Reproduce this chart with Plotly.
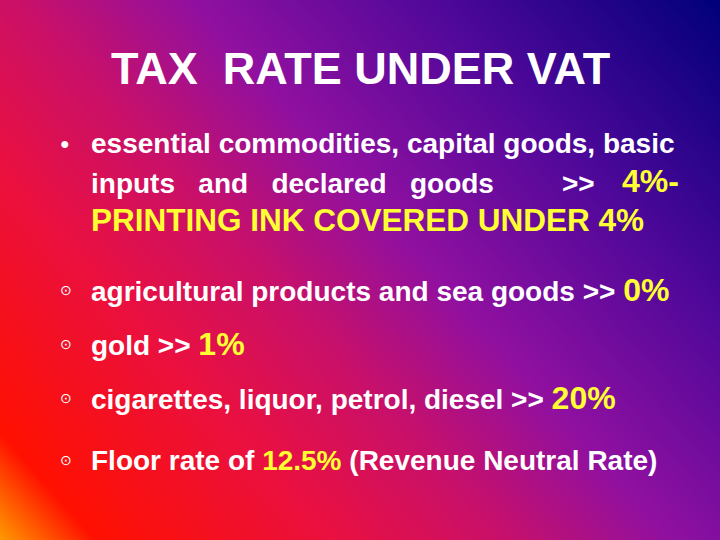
import plotly.graph_objects as go

W, H = 720, 540
title = "TAX  RATE UNDER VAT"
bullets = [
    ("essential commodities, capital goods, basic", "", 143, "●"),
    ("agricultural products and sea goods >> ", "0%", 290, "⊙"),
    ("gold >> ", "1%", 344, "⊙"),
    ("cigarettes, liquor, petrol, diesel >> ", "20%", 398, "⊙"),
]
YEL = "#ffff33"
FONT = "Liberation Sans, Arial, sans-serif"

# background gradient (bottom-left warm -> top-right navy)
gx = [0, W / 2, W]
gy = [0, H / 2, H]
gz = [[0.6 * x / W + 0.4 * y / H for x in gx] for y in gy]

fig = go.Figure(go.Heatmap(
    x=gx, y=gy, z=gz, zsmooth="best", showscale=False, hoverinfo="skip",
    colorscale=[[0, "#ff9a00"], [0.08, "#ff1000"], [0.28, "#ea1040"],
                [0.42, "#c8106a"], [0.56, "#9010a0"], [0.76, "#50089a"], [1, "#00007a"]],
))

def txt(x, y, s, size, anchor="left"):
    fig.add_annotation(x=x, y=H - y, text=s, showarrow=False, xanchor=anchor,
                       yanchor="middle", font=dict(family=FONT, size=size, color="white"))

txt(360, 68, "<b>%s</b>" % title, 45, "center")
for text, pct, y, dot in bullets:
    txt(58, y, dot, 16 if dot == "●" else 14)
    s = "<b>%s</b>" % text
    if pct:
        s += "<span style='font-size:32px;color:%s'><b>%s</b></span>" % (YEL, pct)
    txt(89, y, s, 28)

txt(89, 183, "<b>inputs   and   declared   goods</b>", 28)
txt(560, 183, "<b>>></b>", 28)
txt(620, 181, "<span style='color:%s'><b>4%%-</b></span>" % YEL, 32)
txt(89, 220, "<span style='color:%s'><b>PRINTING INK COVERED UNDER 4%%</b></span>" % YEL, 31.5)
txt(58, 460, "⊙", 14)
txt(89, 460, "<b>Floor rate of </b><span style='color:%s'><b>12.5%%</b></span><b> (Revenue Neutral Rate)</b>" % YEL, 28)

fig.update_layout(
    width=W, height=H, margin=dict(l=0, r=0, t=0, b=0),
    xaxis=dict(range=[0, W], visible=False, fixedrange=True),
    yaxis=dict(range=[0, H], visible=False, fixedrange=True),
    paper_bgcolor="#800080", plot_bgcolor="#800080",
)
fig.write_html("out.html", config={"displayModeBar": False},
               post_script="document.body.style.margin='0';")
